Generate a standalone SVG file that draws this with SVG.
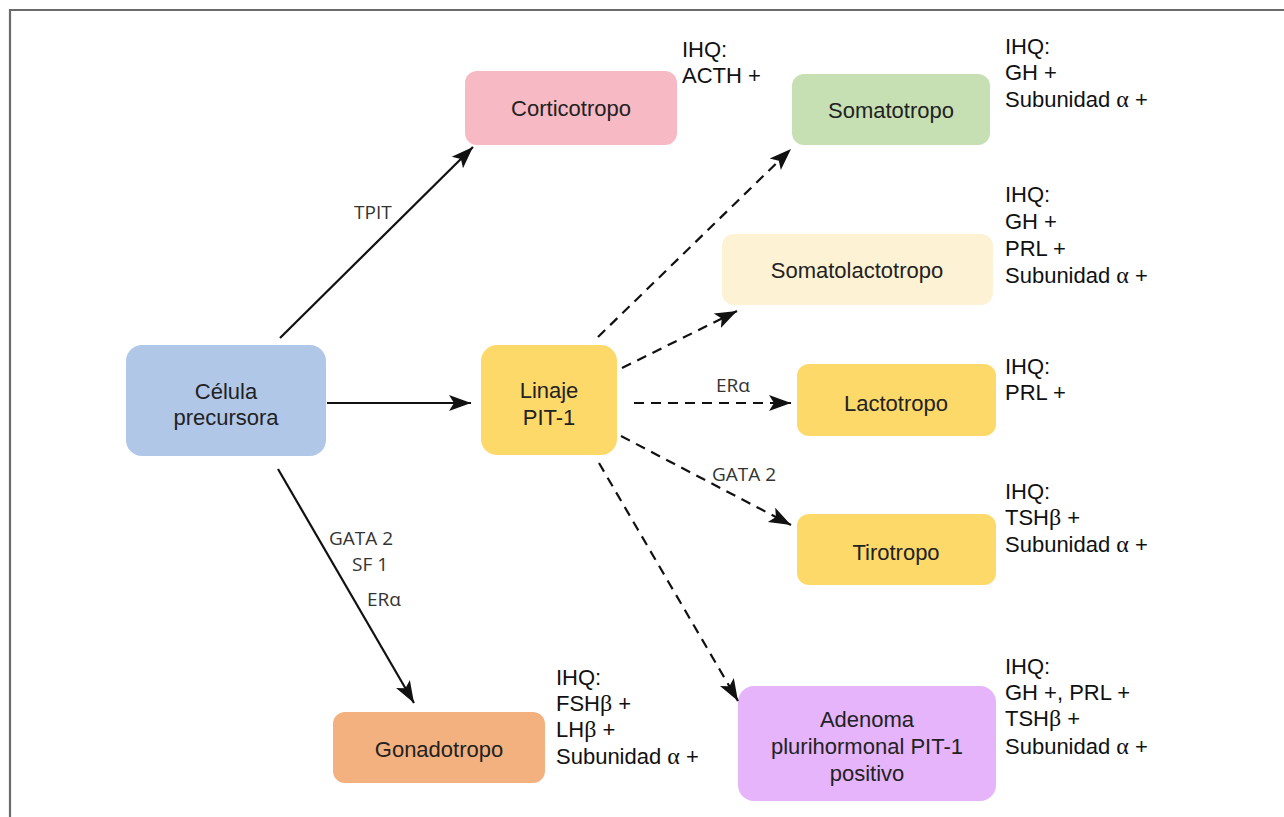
<svg xmlns="http://www.w3.org/2000/svg" width="1284" height="817" viewBox="0 0 1284 817">
<defs>
<marker id="ahL" markerWidth="24" markerHeight="20" refX="22" refY="10" orient="auto" markerUnits="userSpaceOnUse" viewBox="0 0 24 20">
<path d="M0,2 L22,10 L0,18 L5,10 Z" fill="#111"/>
</marker>
</defs>
<style>
.node text{font-family:"Liberation Sans",Arial,sans-serif;font-size:22px;fill:#222;text-anchor:middle}
.ihq{font-family:"Liberation Sans",Arial,sans-serif;font-size:22px;fill:#111}
.gr{font-family:"Liberation Serif","Times New Roman",serif;font-size:24px}
.lbl{font-family:"Open Sans","DejaVu Sans",sans-serif;font-size:19px;fill:#333}
.solid{stroke:#111;stroke-width:2.2;fill:none;marker-end:url(#ahL)}
.dash{stroke:#111;stroke-width:2.2;fill:none;stroke-dasharray:10 7;marker-end:url(#ahL)}
</style>
<rect width="1284" height="817" fill="#fff"/>
<path d="M10,817 L10,10 L1284,10" fill="none" stroke="#6b6b6b" stroke-width="2.2"/>

<g id="nodes">
<g id="celula" class="node"><rect x="126" y="345" width="200" height="111" rx="16" fill="#b1c7e8"/><text x="226" y="399">Célula</text><text x="226" y="425">precursora</text></g>
<g id="linaje" class="node"><rect x="481" y="345" width="136" height="110" rx="16" fill="#fdd96a"/><text x="549" y="398">Linaje</text><text x="549" y="425">PIT-1</text></g>
<g id="cortico" class="node"><rect x="465" y="71" width="212" height="74" rx="12" fill="#f7b9c4"/><text x="571" y="116">Corticotropo</text></g>
<g id="somato" class="node"><rect x="792" y="74" width="198" height="71" rx="12" fill="#c6e0b4"/><text x="891" y="118">Somatotropo</text></g>
<g id="somatolacto" class="node"><rect x="722" y="234" width="271" height="71" rx="12" fill="#fef2d5"/><text x="857" y="278">Somatolactotropo</text></g>
<g id="lacto" class="node"><rect x="797" y="364" width="199" height="72" rx="12" fill="#fdd96a"/><text x="896" y="411">Lactotropo</text></g>
<g id="tiro" class="node"><rect x="797" y="514" width="199" height="71" rx="12" fill="#fdd96a"/><text x="896" y="560">Tirotropo</text></g>
<g id="gonado" class="node"><rect x="333" y="712" width="212" height="71" rx="12" fill="#f3b180"/><text x="439" y="757">Gonadotropo</text></g>
<g id="adenoma" class="node"><rect x="738" y="686" width="258" height="115" rx="16" fill="#e5b4fb"/><text x="867" y="727">Adenoma</text><text x="867" y="754">plurihormonal PIT-1</text><text x="867" y="781">positivo</text></g>
</g>

<g id="connectors">
<line class="solid" x1="280" y1="338" x2="473" y2="147"/>
<line class="solid" x1="327" y1="403" x2="471" y2="403"/>
<line class="solid" x1="278" y1="469" x2="414" y2="703"/>
<line class="dash" x1="598" y1="337" x2="791" y2="149"/>
<line class="dash" x1="622" y1="368" x2="737" y2="311"/>
<line class="dash" x1="634" y1="403" x2="791" y2="403"/>
<line class="dash" x1="621" y1="436" x2="791" y2="525"/>
<line class="dash" x1="599" y1="463" x2="738" y2="701"/>
</g>

<g id="edge-labels" class="lbl">
<text x="354" y="219">TPIT</text>
<text x="716" y="392">ERα</text>
<text x="712" y="481">GATA 2</text>
<text x="329" y="545">GATA 2</text>
<text x="352" y="571">SF 1</text>
<text x="367" y="606">ERα</text>
</g>

<g id="ihq" class="ihq">
<text x="682" y="57">IHQ:</text><text x="682" y="83">ACTH +</text>
<text x="1005" y="54">IHQ:</text><text x="1005" y="80">GH +</text><text x="1005" y="107">Subunidad <tspan class="gr">α</tspan> +</text>
<text x="1005" y="202">IHQ:</text><text x="1005" y="229">GH +</text><text x="1005" y="256">PRL +</text><text x="1005" y="283">Subunidad <tspan class="gr">α</tspan> +</text>
<text x="1005" y="374">IHQ:</text><text x="1005" y="400">PRL +</text>
<text x="1005" y="499">IHQ:</text><text x="1005" y="525">TSH<tspan class="gr">β</tspan> +</text><text x="1005" y="552">Subunidad <tspan class="gr">α</tspan> +</text>
<text x="556" y="685">IHQ:</text><text x="556" y="711">FSH<tspan class="gr">β</tspan> +</text><text x="556" y="737">LH<tspan class="gr">β</tspan> +</text><text x="556" y="764">Subunidad <tspan class="gr">α</tspan> +</text>
<text x="1005" y="674">IHQ:</text><text x="1005" y="700">GH +, PRL +</text><text x="1005" y="726">TSH<tspan class="gr">β</tspan> +</text><text x="1005" y="754">Subunidad <tspan class="gr">α</tspan> +</text>
</g>
</svg>
